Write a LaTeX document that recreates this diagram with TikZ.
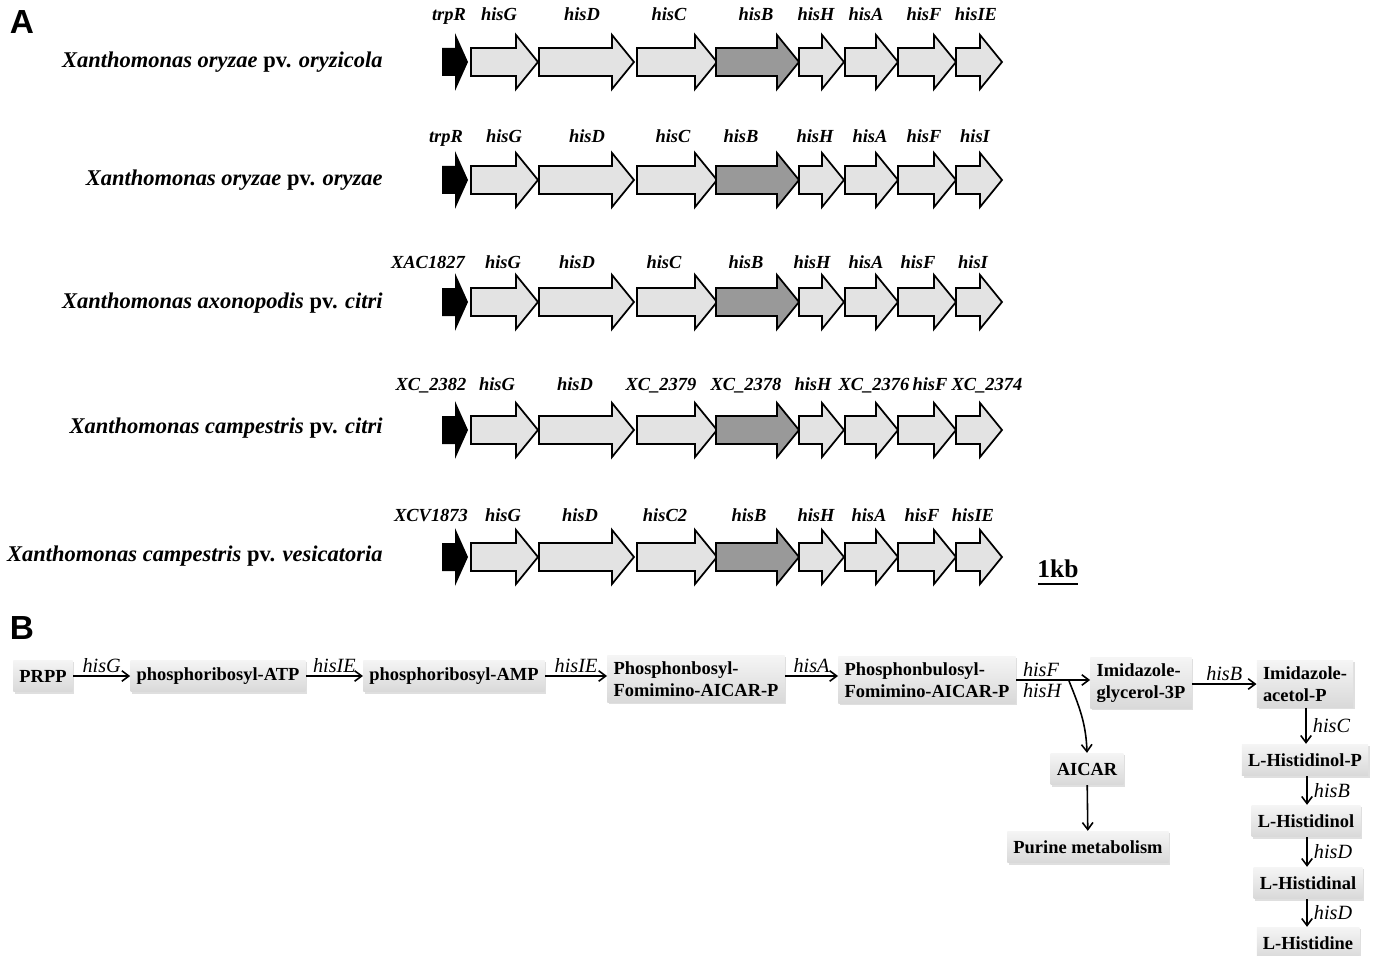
\documentclass[tikz,border=0pt]{standalone}
\usepackage{fontspec}
\setmainfont{Liberation Serif}
\newfontfamily\panelfont{Liberation Sans}
\usetikzlibrary{arrows.meta, shadows}

\definecolor{geneLight}{gray}{0.89}
\definecolor{geneDark}{gray}{0.60}

% one gene: start x, tip x, centre y, fill
\newcommand{\geneArrow}[4]{%
  \draw[geneLine, fill=#4] (#1,#3-14) -- (#2-22,#3-14) -- (#2-22,#3-27) -- (#2,#3)
    -- (#2-22,#3+27) -- (#2-22,#3+14) -- (#1,#3+14) -- cycle;
}
% one operon row at centre y
\newcommand{\geneRow}[1]{%
  \fill[black] (442,#1-14) -- (455,#1-14) -- (455,#1-29) -- (468,#1) -- (455,#1+29) -- (455,#1+14) -- (442,#1+14) -- cycle;
  \foreach \xa/\xb in {471/538, 539/634, 637/717} {\geneArrow{\xa}{\xb}{#1}{geneLight}}
  \geneArrow{716}{799}{#1}{geneDark}
  \foreach \xa/\xb in {799/844, 845/898, 898/956, 956/1002} {\geneArrow{\xa}{\xb}{#1}{geneLight}}
}

\begin{document}
\begin{tikzpicture}[
    x=0.02cm, y=-0.02cm,
    geneLine/.style={draw=black, line width=1pt, line join=miter},
    gLab/.style={font=\fontsize{10.5}{12}\selectfont\bfseries\itshape, inner sep=0pt, anchor=base},
    spLab/.style={font=\fontsize{12.8}{14}\selectfont\bfseries, anchor=east, inner sep=0pt},
    panel/.style={font=\panelfont\fontsize{19}{22}\selectfont\bfseries, inner sep=0pt},
    met/.style={font=\fontsize{10.5}{12.5}\selectfont\bfseries, align=left, inner xsep=3.5pt,
        minimum height=18pt, top color=gray!8, bottom color=gray!30,
        drop shadow={opacity=0.25, shadow xshift=1pt, shadow yshift=-1pt}},
    enz/.style={font=\fontsize{11.5}{14}\selectfont\itshape, inner sep=1.5pt},
    pArrow/.style={-{Straight Barb[length=4pt, width=6pt]}, line width=0.9pt}
]
    \useasboundingbox (0,0) rectangle (1375,956);

    % panel A
    \node[panel] (labA) at (22,22) {A};

    \node[spLab] (sp1) at (383,62) {\textit{Xanthomonas oryzae} pv. \textit{oryzicola}};
    \geneRow{62}
    \foreach \x/\g in {449/trpR, 499/hisG, 582/hisD, 669/hisC, 756/hisB, 816/hisH, 866/hisA, 924/hisF, 976/hisIE}
        \node[gLab] at (\x,21) {\g};

    \node[spLab] (sp2) at (383,180) {\textit{Xanthomonas oryzae} pv. \textit{oryzae}};
    \geneRow{180}
    \foreach \x/\g in {446/trpR, 504/hisG, 587/hisD, 673/hisC, 741/hisB, 815/hisH, 870/hisA, 924/hisF, 975/hisI}
        \node[gLab] at (\x,143) {\g};

    \node[spLab] (sp3) at (383,303) {\textit{Xanthomonas axonopodis} pv. \textit{citri}};
    \geneRow{302}
    \foreach \x/\g in {428/XAC1827, 503/hisG, 577/hisD, 664/hisC, 746/hisB, 812/hisH, 866/hisA, 918/hisF, 973/hisI}
        \node[gLab] at (\x,268) {\g};

    \node[spLab] (sp4) at (383,428) {\textit{Xanthomonas campestris} pv. \textit{citri}};
    \geneRow{430}
    \foreach \x/\g in {431/XC\_2382, 497/hisG, 575/hisD, 661/XC\_2379, 746/XC\_2378, 813/hisH, 874/XC\_2376, 930/hisF, 987/XC\_2374}
        \node[gLab] at (\x,390) {\g};

    \node[spLab] (sp5) at (383,556) {\textit{Xanthomonas campestris} pv. \textit{vesicatoria}};
    \geneRow{557}
    \foreach \x/\g in {431/XCV1873, 503/hisG, 580/hisD, 665/hisC2, 749/hisB, 816/hisH, 869/hisA, 922/hisF, 973/hisIE}
        \node[gLab] at (\x,521) {\g};

    % scale bar
    \node[font=\fontsize{14.5}{16}\selectfont\bfseries, inner sep=0pt] (kb) at (1058,569) {1kb};
    \draw[line width=1.3pt] (1038,584) -- (1078,584);

    % panel B
    \node[panel] (labB) at (22,628) {B};

    \node[met] (prpp) at (43,676) {PRPP};
    \node[met] (pratp) at (218,676) {phosphoribosyl-ATP};
    \node[met] (pramp) at (454,676) {phosphoribosyl-AMP};
    \node[met] (profar) at (696,679) {Phosphonbosyl-\\Fomimino-AICAR-P};
    \node[met] (prfar) at (927,680) {Phosphonbulosyl-\\Fomimino-AICAR-P};
    \node[met] (igp) at (1141,683) {Imidazole-\\glycerol-3P};
    \node[met] (iap) at (1305,684) {Imidazole-\\acetol-P};
    \node[met] (holp) at (1305,760) {L-Histidinol-P};
    \node[met] (hol) at (1306,821) {L-Histidinol};
    \node[met] (hal) at (1308,883) {L-Histidinal};
    \node[met] (his) at (1308,943) {L-Histidine};
    \node[met] (aicar) at (1087,769) {AICAR};
    \node[met] (purine) at (1088,847) {Purine metabolism};

    \draw[pArrow] (prpp) -- node[enz, above] {hisG} (pratp);
    \draw[pArrow] (pratp) -- node[enz, above] {hisIE} (pramp);
    \draw[pArrow] (pramp.east) -- node[enz, above] {hisIE} (pramp.east -| profar.west);
    \draw[pArrow] (profar.east |- 0,676) -- node[enz, above] {hisA} (prfar.west |- 0,676);
    \draw[pArrow] (prfar.east) -- (prfar.east -| igp.west);
    \node[enz, anchor=south west] (hisF) at (1020,680) {hisF};
    \node[enz, anchor=north west] (hisH) at (1020,680) {hisH};
    \coordinate (branch) at (1069,681);
    \draw[pArrow] (branch) to[out=-68, in=92] (aicar.north);
    \draw[pArrow] (aicar) -- (purine);
    \draw[pArrow] (igp.east |- 0,684) -- node[enz, above] {hisB} (iap.west |- 0,684);

    \draw[pArrow] (iap.south -| 1306,0) -- node[enz, right=2pt] {hisC} (holp.north -| 1306,0);
    \draw[pArrow] (holp.south -| 1307,0) -- node[enz, right=2pt] {hisB} (hol.north -| 1307,0);
    \draw[pArrow] (hol.south -| 1307,0) -- node[enz, right=2pt] {hisD} (hal.north -| 1307,0);
    \draw[pArrow] (hal.south -| 1307,0) -- node[enz, right=2pt] {hisD} (his.north -| 1307,0);
\end{tikzpicture}
\end{document}
